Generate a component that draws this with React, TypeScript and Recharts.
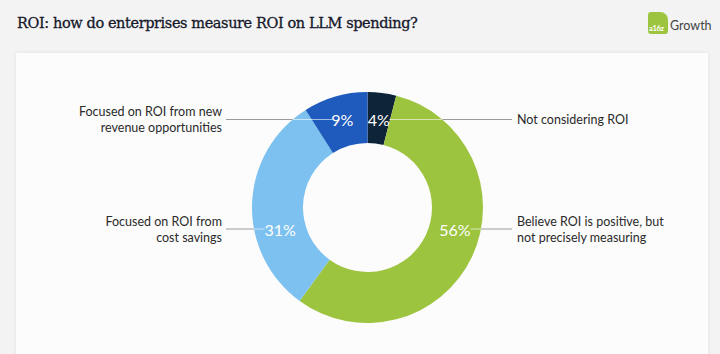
import React from 'react';
import { PieChart, Pie, Cell } from 'recharts';

const SEGMENTS = ['Not considering ROI', 'Believe ROI is positive', 'Focused on cost savings', 'Focused on new revenue'];
const SHARES = [4, 56, 31, 9];
const LABEL_LINES = [
    ['Not considering ROI'],
    ['Believe ROI is positive, but', 'not precisely measuring'],
    ['Focused on ROI from', 'cost savings'],
    ['Focused on ROI from new', 'revenue opportunities']
];

const COLORS = ['#0e2438', '#9dc43f', '#7cc1ef', '#1f5abd'];
const FONT = 'Lato, "Open Sans", sans-serif';

const data = SEGMENTS.map((name, i) => ({ name, value: SHARES[i], lines: LABEL_LINES[i] }));

const RADIAN = Math.PI / 180;

const renderLabel = (props: any) => {
    const { cx, cy, midAngle, innerRadius, outerRadius, index } = props;
    const r = (innerRadius + outerRadius) / 2;
    const cos = Math.cos(-midAngle * RADIAN);
    const sin = Math.sin(-midAngle * RADIAN);
    let x = cx + r * cos;
    let y = cy + r * sin;
    // upper labels share one row near the top, the others a row just below the centre
    if (y < cy - 40) {
        y = cy - 88;
    } else {
        y = cy + 21.5;
        x = cx + Math.sign(cos) * Math.sqrt(r * r - 21.5 * 21.5);
    }
    const right = cos >= 0;
    const pct = `${SHARES[index]}%`;
    const halfW = pct.length * 5.2;
    const dy = y - cy;
    const edgeX = cx + (right ? 1 : -1) * Math.sqrt(outerRadius * outerRadius - dy * dy);
    const labelEdge = x + (right ? halfW : -halfW);
    const textX = right ? cx + 149.5 : cx - 145.5;
    const lineEnd = right ? textX - 5 : textX + 4;
    const lines: string[] = data[index].lines;
    return (
        <g key={`lbl-${index}`}>
            <line x1={labelEdge} y1={y} x2={edgeX} y2={y} stroke="rgba(255,255,255,0.6)" strokeWidth={1} />
            <line x1={edgeX} y1={y} x2={lineEnd} y2={y} stroke="#9a9a9a" strokeWidth={1} />
            <text x={x} y={y} fill="#fff" fontSize={16} fontFamily={FONT} textAnchor="middle" dominantBaseline="central">
                {pct}
            </text>
            <text x={textX} y={y} fill="#2a2a2a" fontSize={12.5} fontFamily={FONT} textAnchor={right ? 'start' : 'end'}>
                {lines.map((l, i) => (
                    <tspan key={i} x={textX} dy={i === 0 ? (lines.length === 1 ? 4.5 : -3.5) : 16}>
                        {l}
                    </tspan>
                ))}
            </text>
        </g>
    );
};

export default function App() {
    return (
        <div style={{ position: 'absolute', left: 0, top: 0, width: 720, height: 354, background: '#f3f3f3', overflow: 'hidden' }}>
            <div style={{ position: 'absolute', left: 17, top: 15, fontFamily: '"DejaVu Serif", serif', fontSize: 14.5, fontWeight: 400, color: '#15182a', letterSpacing: -0.4, WebkitTextStroke: '0.3px #15182a' }}>
                ROI: how do enterprises measure ROI on LLM spending?
            </div>
            <div style={{ position: 'absolute', left: 648, top: 12, width: 20, height: 22, background: '#9dc43f', borderRadius: '3px 8px 3px 3px' }}>
                <span style={{ position: 'absolute', left: 1, bottom: 1, color: '#fff', fontFamily: FONT, fontWeight: 700, fontSize: 7.5, letterSpacing: -0.3 }}>a16z</span>
            </div>
            <div style={{ position: 'absolute', left: 670, top: 18, color: '#444', fontFamily: FONT, fontSize: 12.5 }}>Growth</div>
            <div style={{ position: 'absolute', left: 16, top: 53, width: 692, height: 310, background: '#fcfcfc', boxShadow: '0 0 4px rgba(0,0,0,0.08)' }} />
            <div style={{ position: 'absolute', left: 0, top: 0 }}>
                <PieChart width={720} height={354}>
                    <Pie
                        data={data}
                        dataKey="value"
                        cx={362.5}
                        cy={202.5}
                        innerRadius={64.5}
                        outerRadius={115.5}
                        startAngle={90}
                        endAngle={-270}
                        stroke="none"
                        label={renderLabel}
                        labelLine={false}
                        isAnimationActive={false}
                    >
                        {data.map((entry, index) => (
                            <Cell key={`cell-${index}`} fill={COLORS[index]} />
                        ))}
                    </Pie>
                </PieChart>
            </div>
        </div>
    );
}
